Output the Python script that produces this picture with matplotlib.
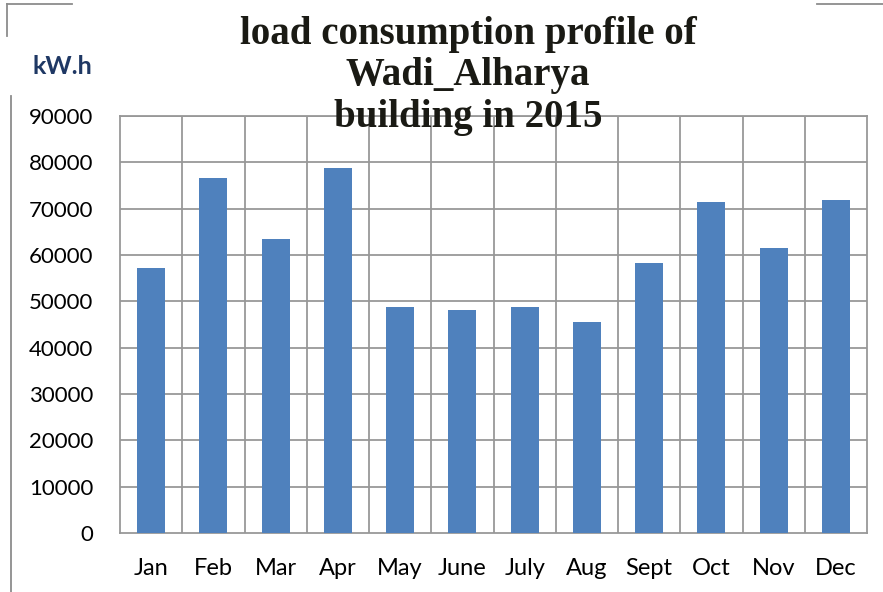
import matplotlib
matplotlib.use("Agg")
import matplotlib.pyplot as plt
from matplotlib.lines import Line2D
import numpy as np

months = ["Jan", "Feb", "Mar", "Apr", "May", "June", "July", "Aug", "Sept", "Oct", "Nov", "Dec"]
consumption = [57200, 76600, 63500, 78800, 48800, 48200, 48800, 45600, 58300, 71400, 61500, 71900]
yticks = [0, 10000, 20000, 30000, 40000, 50000, 60000, 70000, 80000, 90000]

W, H = 883, 592
fig = plt.figure(figsize=(W / 100, H / 100), dpi=100)
ax = fig.add_axes([120 / W, 1 - 533 / H, (867 - 120) / W, (533 - 116) / H])

x = np.arange(len(months))
grid_c = "#989898"
ax.bar(x, consumption, width=0.45, color="#4F81BD", zorder=3)
ax.set_xlim(-0.5, len(months) - 0.5)
ax.set_ylim(0, 90000)
ax.set_yticks(yticks)
ax.set_yticklabels([str(v) for v in yticks], fontsize=16, family="Lato")
ax.set_xticks(x)
ax.set_xticklabels(months, fontsize=17, family="Lato")
ax.tick_params(axis="y", length=0, pad=19)
ax.tick_params(axis="x", length=0, pad=18)
for b in np.arange(0.5, len(months) - 0.5, 1):
    ax.axvline(b, color=grid_c, lw=1.3, zorder=1)
for v in yticks[1:]:
    ax.axhline(v, color=grid_c, lw=1.3, zorder=1)
for s in ax.spines.values():
    s.set_color(grid_c)
    s.set_linewidth(1.3)

fig.text(468 / W, 1 - 76 / H, "load consumption profile of\nWadi_Alharya\nbuilding in 2015",
         ha="center", va="center", fontsize=28, fontweight="bold", family="Liberation Serif",
         linespacing=1.15, color="#1a1a14", zorder=5)
fig.text(62 / W, 1 - 66 / H, "kW.h", ha="center", va="center", fontsize=18,
         fontweight="bold", family="Lato", color="#1F3864")

fc = "#8c8c8c"
fig.add_artist(Line2D([7 / W, 72 / W], [1 - 4 / H, 1 - 4 / H], color=fc, lw=1.3, transform=fig.transFigure))
fig.add_artist(Line2D([7 / W, 7 / W], [1 - 4 / H, 1 - 36 / H], color=fc, lw=1.3, transform=fig.transFigure))
fig.add_artist(Line2D([11 / W, 11 / W], [1 - 96 / H, 0], color=fc, lw=1.3, transform=fig.transFigure))
fig.add_artist(Line2D([817 / W, 1], [1 - 4 / H, 1 - 4 / H], color=fc, lw=1.3, transform=fig.transFigure))

fig.savefig("out.png", dpi=100)
